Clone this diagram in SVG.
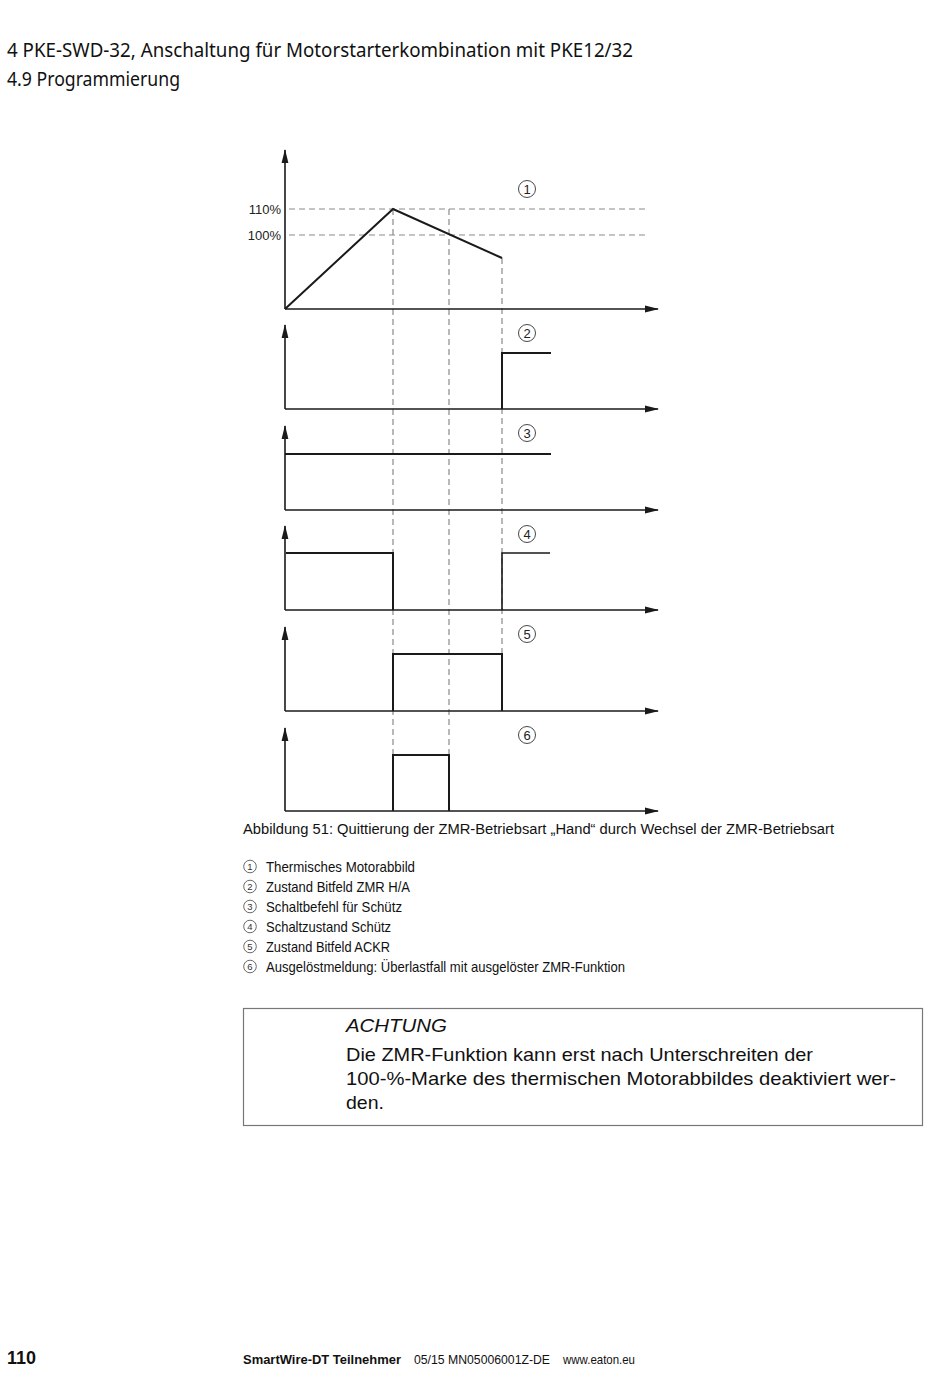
<svg xmlns="http://www.w3.org/2000/svg" width="950" height="1397" viewBox="0 0 950 1397">
<style>
.axis{stroke:#1a1a1a;stroke-width:1.6;fill:none}
.sig{stroke:#1a1a1a;stroke-width:2;fill:none}
.dash{stroke:#8a8a8a;stroke-width:1.2;stroke-dasharray:6,4;fill:none}
.num{fill:none;stroke:#333;stroke-width:0.9}
.numt{font-family:"Liberation Sans",Arial,sans-serif;font-size:13px;fill:#222;text-anchor:middle}
.lnum{fill:none;stroke:#444;stroke-width:0.8}
.lnumt{font-family:"Liberation Sans",Arial,sans-serif;font-size:9.5px;fill:#333;text-anchor:middle}
.head{font-family:"Noto Sans","Open Sans",sans-serif;font-size:20px;fill:#111}
.pct{font-family:"Liberation Sans",Arial,sans-serif;font-size:13px;fill:#222}
.cap{font-family:"Liberation Sans",Arial,sans-serif;font-size:13.8px;fill:#111}
.leg{font-family:"Liberation Sans",Arial,sans-serif;font-size:14.5px;fill:#111}
.box{font-family:"Liberation Sans",Arial,sans-serif;font-size:18.5px;fill:#111}
.foot{font-family:"Liberation Sans",Arial,sans-serif;fill:#111}
</style>
<defs>
<marker id="ah" markerWidth="14" markerHeight="8" refX="13" refY="4" orient="auto" markerUnits="userSpaceOnUse">
<path d="M0,0.6 L14,4 L0,7.4 Z" fill="#1a1a1a"/>
</marker>
</defs>
<rect width="950" height="1397" fill="#fff"/>

<g id="header">
<text class="head" x="7" y="57" textLength="626" lengthAdjust="spacingAndGlyphs">4 PKE-SWD-32, Anschaltung für Motorstarterkombination mit PKE12/32</text>
<text class="head" x="7" y="86" textLength="173" lengthAdjust="spacingAndGlyphs">4.9 Programmierung</text>
</g>

<g id="connectors">
<line class="dash" x1="289" y1="209" x2="648" y2="209"/>
<line class="dash" x1="289" y1="235" x2="648" y2="235"/>
<line class="dash" x1="393" y1="209" x2="393" y2="754"/>
<line class="dash" x1="449" y1="209" x2="449" y2="754"/>
<line class="dash" x1="502" y1="258" x2="502" y2="654"/>
</g>

<g id="chart1">
<line class="axis" x1="285" y1="309" x2="285" y2="150" marker-end="url(#ah)"/>
<line class="axis" x1="285" y1="309" x2="658" y2="309" marker-end="url(#ah)"/>
<polyline class="sig" points="285,309 393,209 502,258"/>
<text class="pct" x="281" y="214" text-anchor="end">110%</text>
<text class="pct" x="281" y="240" text-anchor="end">100%</text>
<circle class="num" cx="527" cy="189" r="8.5"/>
<text class="numt" x="527" y="194">1</text>
</g>

<g id="chart2">
<line class="axis" x1="285" y1="409" x2="285" y2="325" marker-end="url(#ah)"/>
<line class="axis" x1="285" y1="409" x2="658" y2="409" marker-end="url(#ah)"/>
<polyline class="sig" points="502,409 502,353 551,353"/>
<circle class="num" cx="527" cy="333" r="8.5"/>
<text class="numt" x="527" y="338">2</text>
</g>

<g id="chart3">
<line class="axis" x1="285" y1="510" x2="285" y2="426" marker-end="url(#ah)"/>
<line class="axis" x1="285" y1="510" x2="658" y2="510" marker-end="url(#ah)"/>
<line class="sig" x1="285" y1="454" x2="551" y2="454"/>
<circle class="num" cx="527" cy="433" r="8.5"/>
<text class="numt" x="527" y="438">3</text>
</g>

<g id="chart4">
<line class="axis" x1="285" y1="610" x2="285" y2="526" marker-end="url(#ah)"/>
<line class="axis" x1="285" y1="610" x2="658" y2="610" marker-end="url(#ah)"/>
<polyline class="sig" points="286,553 393,553 393,610"/>
<polyline class="sig" points="502,610 502,553 550,553" style="stroke-width:1.6"/>
<circle class="num" cx="527" cy="534" r="8.5"/>
<text class="numt" x="527" y="539">4</text>
</g>

<g id="chart5">
<line class="axis" x1="285" y1="711" x2="285" y2="627" marker-end="url(#ah)"/>
<line class="axis" x1="285" y1="711" x2="658" y2="711" marker-end="url(#ah)"/>
<polyline class="sig" points="393,711 393,654 502,654 502,711"/>
<circle class="num" cx="527" cy="634" r="8.5"/>
<text class="numt" x="527" y="639">5</text>
</g>

<g id="chart6">
<line class="axis" x1="285" y1="811" x2="285" y2="728" marker-end="url(#ah)"/>
<line class="axis" x1="285" y1="811" x2="658" y2="811" marker-end="url(#ah)"/>
<polyline class="sig" points="393,811 393,755 449,755 449,811"/>
<circle class="num" cx="527" cy="735" r="8.5"/>
<text class="numt" x="527" y="740">6</text>
</g>

<g id="caption">
<text class="cap" x="243" y="834" textLength="591" lengthAdjust="spacingAndGlyphs">Abbildung 51: Quittierung der ZMR-Betriebsart „Hand“ durch Wechsel der ZMR-Betriebsart</text>
</g>

<g id="legend">
<circle class="lnum" cx="250" cy="866.5" r="6.3"/><text class="lnumt" x="250" y="869.9">1</text>
<text class="leg" x="266" y="871.5" textLength="149" lengthAdjust="spacingAndGlyphs">Thermisches Motorabbild</text>
<circle class="lnum" cx="250" cy="886.5" r="6.3"/><text class="lnumt" x="250" y="889.9">2</text>
<text class="leg" x="266" y="891.5" textLength="144" lengthAdjust="spacingAndGlyphs">Zustand Bitfeld ZMR H/A</text>
<circle class="lnum" cx="250" cy="906.5" r="6.3"/><text class="lnumt" x="250" y="909.9">3</text>
<text class="leg" x="266" y="911.5" textLength="136" lengthAdjust="spacingAndGlyphs">Schaltbefehl für Schütz</text>
<circle class="lnum" cx="250" cy="926.5" r="6.3"/><text class="lnumt" x="250" y="929.9">4</text>
<text class="leg" x="266" y="931.5" textLength="125" lengthAdjust="spacingAndGlyphs">Schaltzustand Schütz</text>
<circle class="lnum" cx="250" cy="946.5" r="6.3"/><text class="lnumt" x="250" y="949.9">5</text>
<text class="leg" x="266" y="951.5" textLength="124" lengthAdjust="spacingAndGlyphs">Zustand Bitfeld ACKR</text>
<circle class="lnum" cx="250" cy="966.5" r="6.3"/><text class="lnumt" x="250" y="969.9">6</text>
<text class="leg" x="266" y="971.5" textLength="359" lengthAdjust="spacingAndGlyphs">Ausgelöstmeldung: Überlastfall mit ausgelöster ZMR-Funktion</text>
</g>

<g id="notice">
<rect x="243.5" y="1008.5" width="679" height="117" fill="none" stroke="#777" stroke-width="1.2"/>
<text class="box" x="346" y="1032" font-style="italic" textLength="101" lengthAdjust="spacingAndGlyphs">ACHTUNG</text>
<text class="box" x="346" y="1061" textLength="467" lengthAdjust="spacingAndGlyphs">Die ZMR-Funktion kann erst nach Unterschreiten der</text>
<text class="box" x="346" y="1085" textLength="550" lengthAdjust="spacingAndGlyphs">100-%-Marke des thermischen Motorabbildes deaktiviert wer-</text>
<text class="box" x="346" y="1109" textLength="38" lengthAdjust="spacingAndGlyphs">den.</text>
</g>

<g id="footer">
<text class="foot" x="7" y="1364" font-size="18" font-weight="bold" textLength="29" lengthAdjust="spacingAndGlyphs">110</text>
<text class="foot" x="243" y="1364" font-size="13" font-weight="bold" textLength="158" lengthAdjust="spacingAndGlyphs">SmartWire-DT Teilnehmer</text>
<text class="foot" x="414" y="1364" font-size="13" textLength="136" lengthAdjust="spacingAndGlyphs">05/15 MN05006001Z-DE</text>
<text class="foot" x="563" y="1364" font-size="13" textLength="72" lengthAdjust="spacingAndGlyphs">www.eaton.eu</text>
</g>
</svg>
